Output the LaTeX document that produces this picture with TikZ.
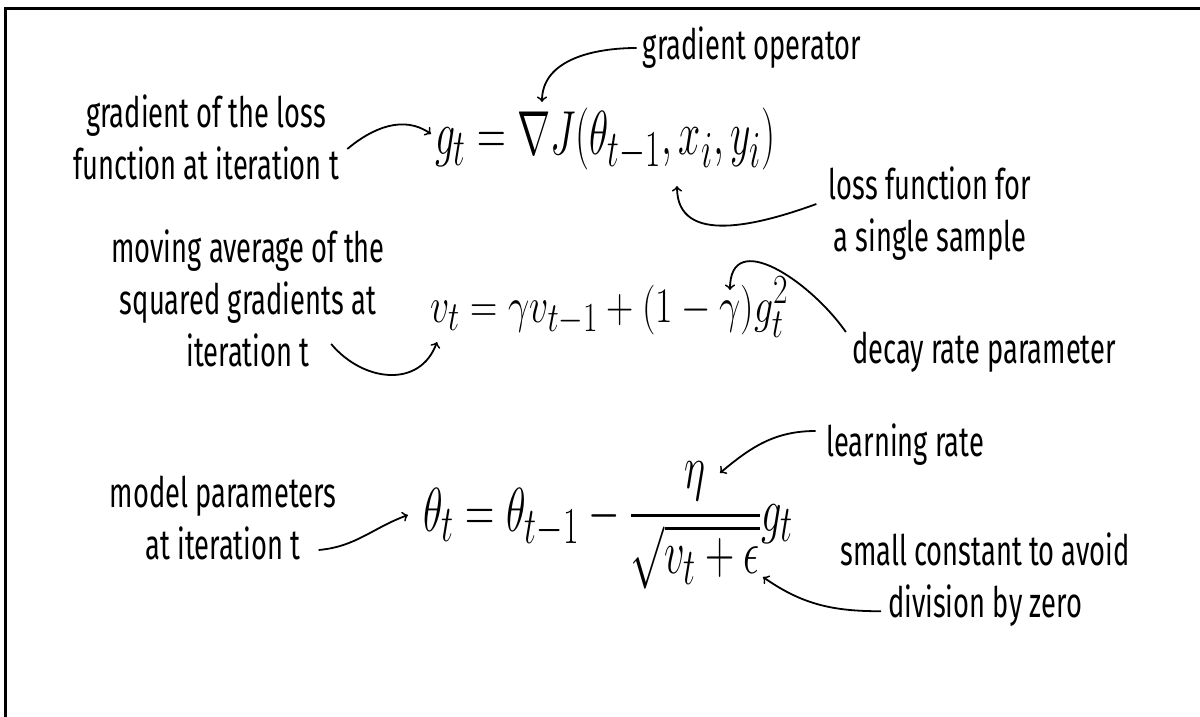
\documentclass[tikz,border=0pt]{standalone}
\usepackage{amsmath}
\usepackage[no-math]{fontspec}
\setmainfont[FakeStretch=0.65]{Fira Sans}
\usepackage{tikz}
\usetikzlibrary{arrows,positioning}

\begin{document}
\begin{tikzpicture}[
    x=0.5pt, y=0.5pt,
    % Annotations
    note/.style={align=center, font=\fontsize{21}{26}\selectfont, inner sep=0pt},
    % Equations
    eq/.style={anchor=base west, font=\fontsize{24.88}{30}\selectfont, inner sep=0pt, transform shape},
    % Pointers
    pointer/.style={->, line width=0.9pt, black}
]
\useasboundingbox (0,0) rectangle (1200,-717);

% Frame
\draw[line width=1.5pt] (5,-717) -- (5,-9) -- (1200,-9);

% Equations
\node[eq, xscale=0.8, yscale=1.25] (eqgrad) at (435,-155) {$g_t = \nabla J(\theta_{t-1}, x_i, y_i)$};
\node[eq, xscale=0.76] (eqavg) at (430,-322) {$v_t = \gamma v_{t-1} + (1-\gamma)g_t^2$};
\node[eq, xscale=0.815, yscale=1.25] (equpd) at (423,-531) {$\theta_t = \theta_{t-1} - \dfrac{\eta}{\sqrt{v_t+\epsilon}}g_t$};

% Targets inside the equations
\coordinate (gt) at (431,-134);
\coordinate (nabla) at (542,-102);
\coordinate (args) at (677,-186);
\coordinate (vt) at (437,-342);
\coordinate (gamma) at (730,-290);
\coordinate (thetat) at (408,-515);
\coordinate (eta) at (720,-473);
\coordinate (eps) at (763,-577);

% Annotations
\node[note] (gradlbl) at (206,-137) {gradient of the loss\\function at iteration t};
\node[note] (oplbl) at (752,-48) {gradient operator};
\node[note] (losslbl) at (930,-214) {loss function for\\a single sample};
\node[note] (avglbl) at (248,-298) {moving average of the\\squared gradients at\\iteration t};
\node[note] (decaylbl) at (984,-352) {decay rate parameter};
\node[note] (modellbl) at (223,-518) {model parameters\\at iteration t};
\node[note] (lrlbl) at (905,-445) {learning rate};
\node[note] (epslbl) at (985,-580) {small constant to avoid\\division by zero};

% Pointers
\draw[pointer] ([xshift=4pt, yshift=-6pt]gradlbl.east) to[out=40, in=145] (gt);
\draw[pointer] ([xshift=-3pt]oplbl.west) to[out=180, in=90] (nabla);
\draw[pointer] ([xshift=-6pt, yshift=5pt]losslbl.west) to[out=200, in=270, looseness=1.1] (args);
\draw[pointer] ([xshift=-27pt, yshift=-23pt]avglbl.east) to[out=-50, in=250, looseness=1.2] (vt);
\draw[pointer] ([xshift=-3pt, yshift=10pt]decaylbl.west) to[out=125, in=90, looseness=1.3] (gamma);
\draw[pointer] ([xshift=-9pt, yshift=-16pt]modellbl.east) to[out=5, in=200] (thetat);
\draw[pointer] ([xshift=-5pt, yshift=7pt]lrlbl.west) to[out=180, in=40] (eta);
\draw[pointer] ([xshift=-52pt, yshift=8pt]epslbl.south) to[out=180, in=-35] (eps);

\end{tikzpicture}
\end{document}
